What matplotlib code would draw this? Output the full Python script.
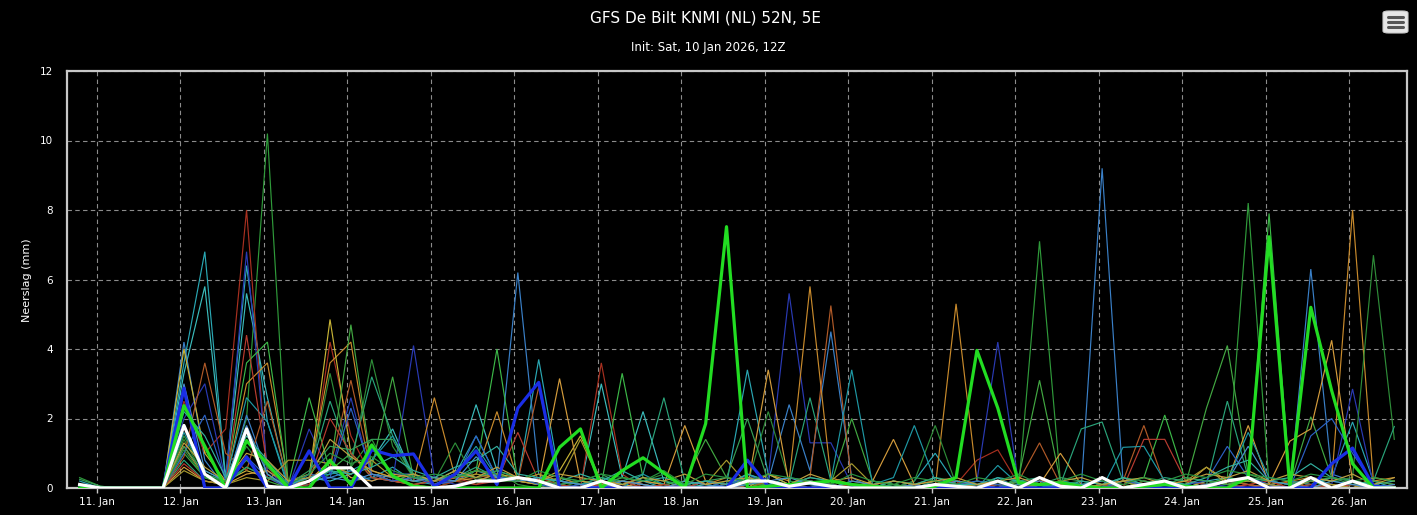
import matplotlib
matplotlib.use("Agg")
import matplotlib.pyplot as plt
import matplotlib.dates as mdates
from matplotlib.patches import FancyBboxPatch
from matplotlib.lines import Line2D
import pandas as pd
from datetime import datetime

# ---------------- data ----------------
title = "GFS De Bilt KNMI (NL) 52N, 5E"
subtitle = "Init: Sat, 10 Jan 2026, 12Z"
ylabel = "Neerslag (mm)"
# 6-hourly valid times (local time, UTC+1), 10 Jan 18Z .. 26 Jan 12Z
times = pd.date_range("2026-01-10 19:00", periods=64, freq="6h")
day_ticks = pd.date_range("2026-01-11", "2026-01-26", freq="D")
y_ticks = [0, 2, 4, 6, 8, 10, 12]

oper = [0, 0, 0, 0, 0, 2.37, 1.2, 0,
        1.36, 0.7, 0, 0, 0.8, 0.1, 1.24, 0.35,
        0.05, 0, 0, 0, 0, 0, 0, 1.17,
        1.7, 0, 0.5, 0.87, 0.43, 0, 1.85, 7.52,
        0, 0.05, 0.1, 0.15, 0.2, 0.1, 0.05, 0,
        0, 0.05, 0.3, 3.96, 2.3, 0.15, 0.1, 0.15,
        0.05, 0, 0, 0.05, 0.1, 0.05, 0, 0,
        0.3, 7.23, 0, 5.2, 2.8, 0.7, 0, 0]

control = [0, 0, 0, 0, 0, 2.87, 0, 0,
           0.9, 0, 0, 1.07, 0, 0, 1.1, 0.93,
           0.98, 0.05, 0.4, 1.07, 0.1, 2.3, 3.04, 0,
           0, 0, 0, 0, 0, 0, 0, 0,
           0.8, 0.05, 0, 0, 0, 0, 0, 0,
           0, 0, 0, 0, 0, 0, 0, 0,
           0, 0, 0, 0, 0, 0, 0, 0,
           0, 0, 0, 0, 0.7, 1.15, 0.05, 0]

mean = [0.1, 0, 0, 0, 0, 1.8, 0.4, 0,
        1.7, 0.05, 0, 0.2, 0.58, 0.58, 0, 0,
        0, 0, 0.05, 0.2, 0.2, 0.3, 0.2, 0,
        0, 0.2, 0, 0, 0, 0, 0, 0,
        0.2, 0.2, 0.05, 0.15, 0.05, 0, 0, 0,
        0, 0.1, 0.05, 0, 0.2, 0, 0.3, 0.05,
        0, 0.3, 0, 0.1, 0.2, 0, 0.05, 0.2,
        0.3, 0, 0, 0.3, 0, 0.2, 0, 0]

m01 = [0.3, 0.05, 0, 0, 0, 1.5, 0.4, 0.1, 2.0, 10.2, 0, 0.1, 0.4, 0.6, 1.4, 0.3,
       0.1, 0, 0.2, 0.1, 0.5, 0.1, 0, 0.2, 0.1, 0, 0.2, 0, 0, 0.1, 0, 0,
       0.1, 0.1, 0, 0, 0.2, 0, 0, 0.1, 0, 0.1, 0, 0.1, 0, 0, 7.1, 0.2,
       0, 0.1, 0, 0, 0.2, 0, 0.1, 0.3, 8.2, 0.1, 0, 0.2, 0, 0.1, 0, 0]
m02 = [0.2, 0, 0, 0, 0, 3.6, 6.8, 0.3, 6.4, 1.9, 0, 0.1, 0.5, 0.2, 0.3, 0.6,
       0.2, 0.1, 0.4, 1.5, 0.3, 0.2, 3.7, 0.3, 0.1, 0.3, 0.1, 0.2, 0, 0, 0.2, 0.1,
       3.4, 0.4, 0.1, 0, 0, 0.1, 0, 0, 0.2, 1.0, 0.1, 0, 0.3, 0, 0, 0.1,
       0, 0, 0.2, 0, 0, 0.1, 0, 0.2, 0.1, 0, 0, 0.1, 0.3, 1.9, 0.2, 0]
m03 = [0, 0, 0, 0, 0, 3.3, 5.8, 0.2, 5.6, 2.6, 0.1, 0.3, 0.2, 0.4, 0.8, 1.7,
       0.3, 0.2, 0.5, 2.4, 0.5, 0.3, 0.2, 0.1, 0, 3.0, 0.3, 2.2, 0.2, 0, 0.1, 0,
       0.2, 0.1, 0.3, 0.2, 0.1, 0, 0.2, 0.1, 0, 0.1, 0, 0, 0.1, 0.2, 0, 0,
       0.1, 0, 0.3, 0.1, 0, 0, 0.2, 0.3, 0.2, 0.1, 0, 0.3, 0.1, 0, 0.1, 0.2]
m04 = [0, 0, 0, 0, 0, 4.2, 0.8, 0, 2.1, 0.4, 0, 0.2, 0.3, 0.5, 0.2, 0.4,
       0.4, 0.1, 0.2, 0.5, 0.3, 6.2, 0.4, 0, 0, 0.1, 0, 0.2, 0.1, 0, 0, 0.1,
       0.4, 0.2, 2.4, 0.5, 4.5, 0.3, 0, 0, 0.1, 0, 0, 0.1, 0.2, 0, 0, 0,
       0, 9.2, 0.2, 0, 0.1, 0, 0, 0.2, 0.3, 0.1, 0, 6.3, 0.4, 0.2, 0, 0]
m05 = [0, 0, 0, 0, 0, 2.5, 1.0, 1.7, 8.0, 0.3, 0, 0.1, 4.2, 1.5, 0.3, 0.2,
       0.1, 0, 0.2, 0.1, 0.3, 0.2, 0.3, 0.1, 0, 3.6, 0.4, 0, 0, 0.1, 0, 0,
       0, 0, 0.1, 0, 0, 0.1, 0, 0, 0, 0, 0.1, 0.8, 1.1, 0.1, 0, 0,
       0.1, 0, 0, 0.2, 0.1, 0, 0, 0, 0.1, 0, 0, 0.2, 0.1, 0, 0, 0]
m06 = [0, 0, 0, 0, 0, 2.0, 3.0, 0.2, 6.8, 0.5, 0, 1.7, 0.4, 2.6, 0.3, 0.2,
       4.1, 0.3, 0.1, 0.2, 0.4, 0.2, 0.1, 0, 0, 0, 0.1, 0, 0, 0.1, 0, 0.2,
       0.1, 0.3, 5.6, 1.3, 1.3, 0.1, 0, 0, 0, 0.1, 0, 0.2, 4.2, 0.1, 0, 0,
       0, 0.1, 0, 0, 0.1, 0, 0, 0.1, 0, 0.1, 0, 0.2, 0.1, 2.85, 0.1, 0]
m07 = [0, 0, 0, 0, 0, 1.2, 0.3, 0.1, 3.0, 3.6, 0.2, 0.4, 3.6, 4.2, 0.5, 0.3,
       0.2, 2.6, 0.3, 0.4, 2.2, 0.2, 0.1, 0.3, 0.1, 0, 0.2, 0.1, 0, 0.2, 0.1, 0.3,
       0.1, 0.4, 0.2, 5.8, 0.3, 0.1, 0, 0.2, 0.1, 0, 5.3, 0.2, 0.1, 0, 0.2, 0.1,
       0, 0.1, 0, 0.2, 0.1, 0, 0.1, 0.2, 0.1, 0, 0.2, 0.3, 0.2, 8.0, 0.2, 0.3]
m08 = [0, 0, 0, 0, 0, 4.0, 1.0, 0.2, 0.5, 0.3, 0.1, 0.3, 4.85, 1.0, 0.4, 0.2,
       0.1, 0.2, 0.3, 0.5, 0.4, 0.3, 0.2, 0.5, 1.5, 0.2, 0.1, 0, 0.1, 0, 0.2, 0.1,
       0, 0.4, 0.1, 0, 0.2, 0.1, 0, 0, 0.1, 0, 0.2, 0.1, 0, 0.1, 0, 0,
       0, 0.1, 0, 0, 0.1, 0, 0.2, 0.1, 0, 0.1, 0.2, 0, 0.1, 0, 0.3, 0.2]
m09 = [0, 0, 0, 0, 0, 1.8, 0.5, 0.2, 3.6, 4.2, 0.1, 2.6, 0.5, 1.0, 0.3, 0.2,
       0.4, 0.2, 0.3, 0.5, 4.0, 0.2, 0.1, 0.3, 0.2, 0.1, 3.3, 0.3, 0.1, 0, 0.2, 0.1,
       0, 0.2, 0.1, 0, 0.1, 0, 0.2, 0.1, 0, 0.1, 0, 0.2, 0.1, 0, 0.1, 0.2,
       0.1, 0, 0.2, 0.3, 2.1, 0.2, 0.1, 0.3, 0.2, 7.9, 0.2, 0.1, 0, 0.2, 0.1, 0]
m10 = [0, 0, 0, 0, 0, 1.4, 0.3, 0.1, 1.2, 0.4, 0, 0.3, 3.3, 0.6, 3.7, 1.2,
       0.3, 0.2, 1.3, 0.2, 0.3, 0.3, 0.1, 0, 0.2, 0.1, 0.3, 0.2, 0.4, 0.1, 0, 0.2,
       0.1, 2.2, 0.2, 0.1, 0, 0.2, 0.1, 0, 0.2, 1.8, 0.1, 0, 0.2, 0.1, 0, 0.1,
       0.2, 0.1, 0, 0.2, 0.1, 0.3, 0.2, 0.1, 0.3, 0.2, 0.1, 0, 0.2, 0.3, 6.7, 1.4]
m11 = [0, 0, 0, 0, 0, 0.8, 0.2, 0.1, 0.6, 0.3, 0.1, 0.4, 2.5, 0.8, 3.2, 1.5,
       0.4, 0.2, 0.3, 0.6, 0.3, 0.2, 0.3, 0.2, 0.1, 0.3, 0.2, 0.4, 2.6, 0.2, 0.1, 0,
       0.3, 0.2, 0.1, 2.6, 0.2, 0.1, 0, 0.1, 0, 0.2, 0.1, 0, 0.1, 0.2, 0.3, 0.1,
       1.7, 1.9, 0.2, 0.1, 0.3, 0.2, 0.1, 2.5, 0.3, 0.2, 0.1, 0.3, 0.2, 0.1, 0.2, 1.77]
m12 = [0, 0, 0, 0, 0, 1.0, 0.3, 0.2, 0.8, 0.2, 0, 0.2, 0.5, 4.7, 0.6, 3.2,
       0.3, 0.2, 0.4, 0.3, 0.2, 0.2, 0.4, 0.1, 0.2, 0.1, 0.3, 0.2, 0.1, 0.2, 1.4, 0.3,
       0.2, 0.1, 0, 0.2, 0.1, 2.0, 0.2, 0.1, 0, 0.1, 0.2, 0.1, 0, 0.3, 3.1, 0.2,
       0.1, 0.2, 0.1, 0, 0.2, 0.1, 2.3, 4.1, 0.4, 0.2, 0.1, 2.05, 0.3, 0.2, 0.1, 0]
m13 = [0, 0, 0, 0, 0, 0.9, 3.6, 1.0, 0.5, 2.5, 0.1, 0.3, 0.6, 3.1, 0.4, 0.2,
       0.3, 0.1, 0.2, 0.3, 0.4, 0.2, 2.9, 0.2, 0.1, 0, 0.2, 0.1, 0, 0.1, 0.2, 0.1,
       0, 0.2, 0.1, 0.3, 5.25, 0.2, 0.1, 0, 0.1, 0, 0.2, 0.1, 0, 0.2, 1.3, 0.1,
       0, 0.1, 0.2, 1.8, 0.1, 0, 0.1, 0.2, 0.1, 0, 0.2, 0.1, 0, 0.2, 0.1, 0]
m14 = [0, 0, 0, 0, 0, 0.6, 0.2, 0.1, 0.4, 0.5, 0.1, 0.2, 0.8, 0.3, 0.2, 0.4,
       0.3, 0.2, 0.3, 0.2, 0.4, 0.2, 0.1, 3.15, 0.2, 0.1, 0, 0.2, 0.1, 1.8, 0.2, 0.1,
       0, 3.4, 0.1, 0.2, 0.1, 0, 0.2, 1.4, 0.1, 0, 0.2, 0.1, 0, 0.2, 0.1, 1.0,
       0.1, 0, 0.2, 0.1, 0, 0.1, 0.6, 0.2, 1.8, 0.1, 1.35, 1.7, 4.25, 0.2, 0.1, 0]
m15 = [0, 0, 0, 0, 0, 1.6, 0.4, 0.2, 2.6, 1.9, 0.1, 0.3, 0.4, 0.5, 0.8, 1.5,
       0.3, 0.2, 0.4, 1.2, 0.3, 0.2, 0.3, 0.2, 0.1, 0.2, 0, 0.4, 0.1, 0, 0.2, 0.1,
       0.3, 0.2, 0.1, 0, 0.2, 3.4, 0.1, 0.3, 1.8, 0.2, 0.1, 0, 0.65, 0.1, 0, 0.2,
       0.1, 0, 1.17, 1.2, 0.2, 0.1, 0, 0.2, 1.6, 0.3, 0.2, 0.1, 0, 0.2, 0.1, 0]
m16 = [0, 0, 0, 0, 0, 0.7, 0.2, 0.1, 4.4, 0.6, 0, 0.2, 2.0, 1.0, 0.3, 0.2,
       0.1, 0.2, 0.3, 0.1, 0.2, 1.6, 0.2, 0.1, 0, 0.1, 0.2, 0, 0.1, 0, 0.2, 0.1,
       0, 0.1, 0, 0.2, 0.1, 0, 0.1, 0, 0, 0.1, 0.2, 0, 0.1, 0, 0.2, 0.1,
       0, 0.1, 0, 1.4, 1.4, 0.2, 0.1, 0, 0.1, 0.2, 0, 0.1, 0, 0.1, 0, 0.1]
m17 = [0, 0, 0, 0, 0, 1.0, 2.1, 0.2, 0.9, 0.3, 0, 0.4, 0.3, 2.3, 0.4, 0.2,
       0.3, 0.1, 0.2, 1.5, 0.3, 0.3, 0.1, 0, 0.1, 0, 0.2, 0.1, 0, 0.1, 0.2, 0,
       0.4, 0.1, 0, 0.2, 0.1, 0, 0.1, 0, 0.1, 0, 0.1, 0.2, 0.1, 0, 0.1, 0,
       0.1, 0, 0.2, 0.1, 0, 0.1, 0.2, 1.2, 0.3, 0.1, 0, 1.5, 2.0, 1.0, 0.1, 0]
m18 = [0, 0, 0, 0, 0, 0.5, 0.2, 0.1, 0.3, 0.2, 0.8, 0.8, 0.7, 0.4, 0.8, 0.3,
       0.2, 0.3, 0.2, 0.4, 0.3, 0.2, 0.4, 0.2, 1.4, 0.1, 0.2, 0.1, 0, 0.2, 0.1, 0.8,
       0.1, 0.2, 0.1, 0, 0.2, 0.7, 0.1, 0, 0.1, 0.2, 0, 0.1, 0.2, 0, 0.1, 0.2,
       0, 0.1, 0.2, 0, 0.1, 0.2, 0.6, 0.1, 0.2, 0.1, 0, 0.2, 0.1, 0, 0.2, 0.1]
m19 = [0.25, 0.05, 0, 0, 0, 1.2, 0.4, 0.2, 0.6, 0.3, 0.1, 0.5, 1.2, 1.1, 1.4, 1.4,
       0.3, 0.2, 0.4, 0.3, 0.5, 0.3, 0.2, 0.1, 0.2, 0.4, 0.1, 0.3, 0.2, 0.1, 0.2, 0.3,
       2.0, 0.2, 0.1, 0.3, 0.2, 0.1, 0, 0.2, 0.1, 0.3, 0.2, 0.1, 0, 0.2, 0.1, 0.3,
       0.2, 0.1, 0.3, 0.2, 0.1, 0.3, 0.2, 0.1, 0.3, 0.2, 0.1, 0.2, 0.3, 0.1, 0.2, 0.1]
m20 = [0, 0, 0, 0, 0, 3.0, 0.5, 0.2, 1.8, 0.4, 0, 0.2, 0.3, 0.2, 0.4, 0.3,
       0.2, 0.3, 0.2, 0.9, 0.3, 0.2, 0.3, 0.2, 0.1, 0, 0.2, 0.1, 0, 0.2, 0.1, 0,
       0.1, 0.2, 0.3, 0.1, 0, 0.2, 0.1, 0, 0.1, 0, 0.2, 0.1, 0, 0.1, 0.2, 0,
       0.1, 0.2, 0, 0.1, 0.2, 0, 0.1, 0.2, 1.2, 0.2, 0.1, 0, 0.2, 0.1, 0, 0.1]
m21 = [0, 0, 0, 0, 0, 2.2, 1.5, 0.3, 1.5, 0.8, 0.1, 0.3, 0.5, 0.4, 0.6, 0.9,
       0.5, 0.3, 0.6, 0.8, 1.2, 0.4, 0.3, 0.2, 0.4, 0.2, 0.5, 0.2, 0.3, 0.1, 0.2, 0.1,
       0.4, 0.2, 0.1, 0.3, 0.2, 0.1, 0, 0.2, 0.1, 0.3, 0.1, 0.1, 0.3, 0.2, 0.1, 0,
       0.2, 0.1, 0.3, 0.1, 0.2, 0.1, 0.3, 0.6, 0.8, 0.2, 0.3, 0.7, 0.3, 0.2, 0.1, 0]
m22 = [0, 0, 0, 0, 0, 1.3, 0.6, 0.2, 1.0, 0.8, 0.2, 0.3, 1.4, 0.9, 0.5, 0.3,
       0.4, 0.2, 0.5, 0.3, 0.6, 0.3, 0.2, 0.4, 0.3, 0.2, 0.1, 0.3, 0.2, 0.4, 0.1, 0.2,
       0.3, 0.2, 0.1, 0.4, 0.2, 0.3, 0.1, 0.2, 0.1, 0.2, 0.3, 0.1, 0.2, 0.3, 0.1, 0.2,
       0.3, 0.1, 0.2, 0.3, 0.1, 0.2, 0.4, 0.3, 0.5, 0.2, 0.4, 0.3, 0.2, 0.4, 0.1, 0.3]
m23 = [0.1, 0, 0, 0, 0, 1.1, 0.3, 0.2, 1.4, 0.6, 0.1, 0.4, 1.0, 0.7, 0.9, 0.5,
       0.3, 0.4, 0.3, 0.5, 0.4, 0.2, 0.5, 0.3, 0.2, 0.4, 0.3, 0.2, 0.5, 0.1, 0.4, 0.3,
       0.2, 0.4, 0.3, 0.2, 0.1, 0.4, 0.2, 0.1, 0.3, 0.2, 0.1, 0.3, 0.2, 0.4, 0.1, 0.2,
       0.4, 0.2, 0.1, 0.3, 0.2, 0.4, 0.3, 0.5, 0.4, 0.3, 0.2, 0.4, 0.3, 0.2, 0.3, 0.2]

members = [m01, m02, m03, m04, m05, m06, m07, m08, m09, m10, m11, m12,
           m13, m14, m15, m16, m17, m18, m19, m20, m21, m22, m23]
member_colors = ["#2f9a3a", "#2aa8b4", "#3bbcbc", "#3a80c8", "#a83020", "#2a3ab4",
                 "#c88a2c", "#c8b436", "#3cb848", "#2e8c38", "#2aa47a", "#42a842",
                 "#b05a28", "#d49c3c", "#1e98a4", "#b83c30", "#2c62c4", "#a89a2e",
                 "#36a058", "#4a90d0", "#33b0a0", "#bfa040", "#2a9440"]

# ---------------- figure ----------------
W, H = 1417, 515
fig = plt.figure(figsize=(W / 100, H / 100), dpi=100, facecolor="#000000")
ax = fig.add_axes([67 / W, (H - 488) / H, (1407 - 67) / W, (488 - 71) / H])
ax.set_facecolor("#000000")

for vals, col in zip(members, member_colors):
    ax.plot(times, vals, color=col, lw=0.85, solid_joinstyle="miter", zorder=2)
ax.plot(times, control, color="#1a2ee6", lw=2.3, zorder=3)
ax.plot(times, oper, color="#22dd22", lw=2.3, zorder=4)
ax.plot(times, mean, color="#ffffff", lw=2.3, zorder=5)

base = mdates.date2num(datetime(2026, 1, 11))
ax.set_xlim(base - 0.3594, base + 15.694)
ax.set_ylim(0, 12)
ax.set_yticks(y_ticks)
ax.set_xticks(day_ticks)
ax.xaxis.set_major_formatter(mdates.DateFormatter("%d. %b"))

ax.grid(True, color="#8c8c8c", lw=0.8, linestyle=(0, (4, 3)))
ax.set_axisbelow(True)
for s in ax.spines.values():
    s.set_color("#c8c8c8")
    s.set_linewidth(1.6)

ax.tick_params(axis="y", length=0, pad=10, colors="white", labelsize=7.5)
ax.tick_params(axis="x", length=3.5, width=1, color="#c8c8c8", pad=3,
               labelcolor="white", labelsize=7.5)

fig.text(0.019, 0.455, ylabel, rotation=90, color="white", fontsize=8,
         ha="center", va="center")
fig.text(0.498, 1 - 18 / H, title, color="white", fontsize=11,
         ha="center", va="center")
fig.text(0.5, 1 - 47 / H, subtitle, color="white", fontsize=8.5,
         ha="center", va="center")

# menu button (hamburger icon)
bx0, by0, bw, bh = 1383 / W, 1 - 33 / H, 25 / W, 22 / H
fig.patches.append(FancyBboxPatch((bx0, by0), bw, bh,
                                  boxstyle="round,pad=0,rounding_size=0.004",
                                  transform=fig.transFigure, facecolor="#e6e6e6",
                                  edgecolor="#cccccc", lw=0.8))
for yy in (17, 22, 27):
    fig.lines.append(Line2D([1388 / W, 1403 / W], [1 - yy / H, 1 - yy / H],
                            transform=fig.transFigure, color="#555555", lw=2.2,
                            solid_capstyle="round"))

fig.savefig("out.png", dpi=100, facecolor="#000000")
